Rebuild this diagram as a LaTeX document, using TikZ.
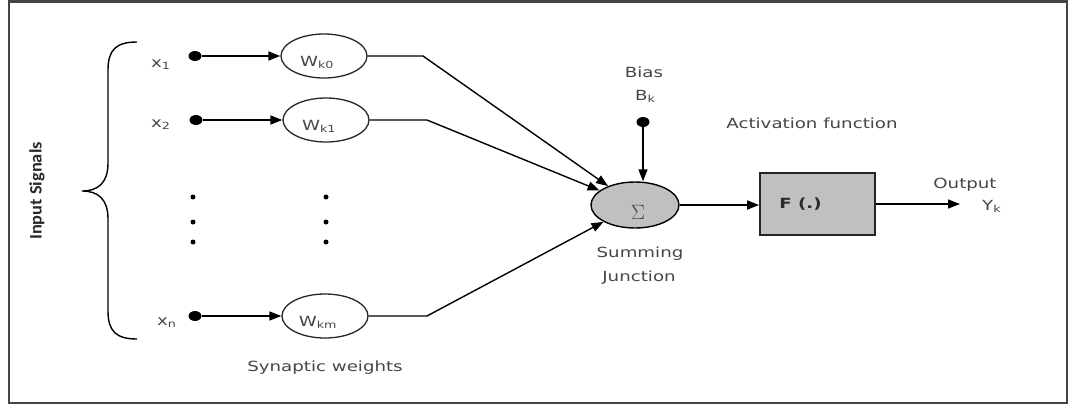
\documentclass[tikz,border=0pt]{standalone}
\usepackage{fontspec}
\setmainfont{DejaVu Sans}[FakeStretch=1.3]
\newfontfamily\insigfont{Carlito}[FakeStretch=1.05]
\usetikzlibrary{arrows.meta,shapes.geometric}
\definecolor{txt}{HTML}{464646}
\definecolor{darktxt}{HTML}{2A2A2A}
\definecolor{fillg}{HTML}{C0C0C0}
\definecolor{framec}{HTML}{444444}

\begin{document}
\begin{tikzpicture}[x=1pt,y=-1pt,
  lbl/.style={text=txt, font=\fontsize{14}{16}\selectfont, inner sep=0pt},
  arr/.style={line width=1.6pt, -{Triangle[length=12pt,width=9pt]}},
  wire/.style={line width=1.4pt},
  bigdot/.style={ellipse, fill=black, minimum width=13pt, minimum height=10pt, inner sep=0pt},
  smalldot/.style={circle, fill=black, minimum size=5pt, inner sep=0pt},
  weight/.style={ellipse, draw=black!85, line width=1.3pt, minimum width=86pt,
    minimum height=44pt, inner sep=0pt, text height=21pt, text depth=0pt,
    text=txt, font=\fontsize{14}{16}\selectfont},
]
\useasboundingbox (0,0) rectangle (1069,405);

% outer frame
\draw[line width=2.2pt, draw=framec] (9,1.5) rectangle (1067,403);

% brace grouping the inputs
\draw[line width=1.4pt]
  (137,42) .. controls (116,42) and (108,50) .. (108,70)
  -- (108,163) .. controls (108,183) and (98,191) .. (82,191)
  .. controls (98,191) and (108,199) .. (108,219)
  -- (108,311) .. controls (108,331) and (116,339) .. (137,339);
\node[rotate=90, text=darktxt, inner sep=0pt,
      font=\insigfont\bfseries\fontsize{17.5}{18}\selectfont] (insig) at (37,191) {Input Signals};

% inputs
\node[lbl, anchor=base west] (lx1) at (151,67) {x\textsubscript{1}};
\node[lbl, anchor=base west] (lx2) at (151,127) {x\textsubscript{2}};
\node[lbl, anchor=base west] (lxn) at (157,325) {x\textsubscript{n}};

\node[bigdot] (d1) at (195,56) {};
\node[bigdot] (d2) at (196,120) {};
\node[bigdot] (dn) at (195,316) {};

% synaptic weights
\node[weight] (w0) at (324,56) {W\textsubscript{k0}\hspace*{14pt}};
\node[weight] (w1) at (326,120) {W\textsubscript{k1}\hspace*{14pt}};
\node[weight] (wn) at (325,316) {W\textsubscript{km}\hspace*{14pt}};

\draw[arr] (d1) -- (w0);
\draw[arr] (d2) -- (w1);
\draw[arr] (dn) -- (wn);

% ellipsis dots
\node[smalldot] (e1) at (193,197) {};
\node[smalldot] (e2) at (193,222) {};
\node[smalldot] (e3) at (193,242) {};
\node[smalldot] (f1) at (326,197) {};
\node[smalldot] (f2) at (326,222) {};
\node[smalldot] (f3) at (326,242) {};

\node[lbl, anchor=base] (syn) at (325,371) {Synaptic weights};

% summing junction
\node[ellipse, draw=black, line width=1.4pt, fill=fillg, minimum width=88pt,
      minimum height=46pt, inner sep=0pt, text height=29pt, text depth=0pt,
      text=txt, font=\fontsize{20}{20}\selectfont] (sig) at (635,205) {\hspace*{6pt}$\Sigma$};

\coordinate (c0) at (423,56);
\coordinate (c1) at (427,120);
\coordinate (cn) at (427,316);
\draw[wire, -{Triangle[length=12pt,width=9pt]}] (w0) -- (c0) -- (sig);
\draw[wire, -{Triangle[length=12pt,width=9pt]}] (w1) -- (c1) -- (sig);
\draw[wire, -{Triangle[length=12pt,width=9pt]}] (wn) -- (cn) -- (sig);

\node[lbl, anchor=base] (sum1) at (640,257) {Summing};
\node[lbl, anchor=base] (sum2) at (639,281) {Junction};

% bias
\node[lbl, anchor=base] (bias) at (644,77) {Bias};
\node[lbl, anchor=base west] (bk) at (635,100) {B\textsubscript{k}};
\node[bigdot] (bd) at (643,122) {};
\draw[arr] (bd) -- (bd |- sig.north);

% activation function
\node[lbl, anchor=base] (act) at (812,128) {Activation function};
\node[draw=black!85, line width=1.9pt, fill=fillg, minimum width=115pt,
      minimum height=62pt, text=darktxt,
      font=\bfseries\fontsize{14}{16}\selectfont] (box) at (817.5,204) {F (.)\hspace*{34pt}};
\draw[arr] (sig.east) -- (sig.east -| box.west);

% output
\coordinate (yout) at (960,204);
\draw[arr] (box.east) -- (yout);
\node[lbl, anchor=base] (outl) at (965,188) {Output};
\node[lbl, anchor=base west] (yk) at (982,210) {Y\textsubscript{k}};
\end{tikzpicture}
\end{document}
